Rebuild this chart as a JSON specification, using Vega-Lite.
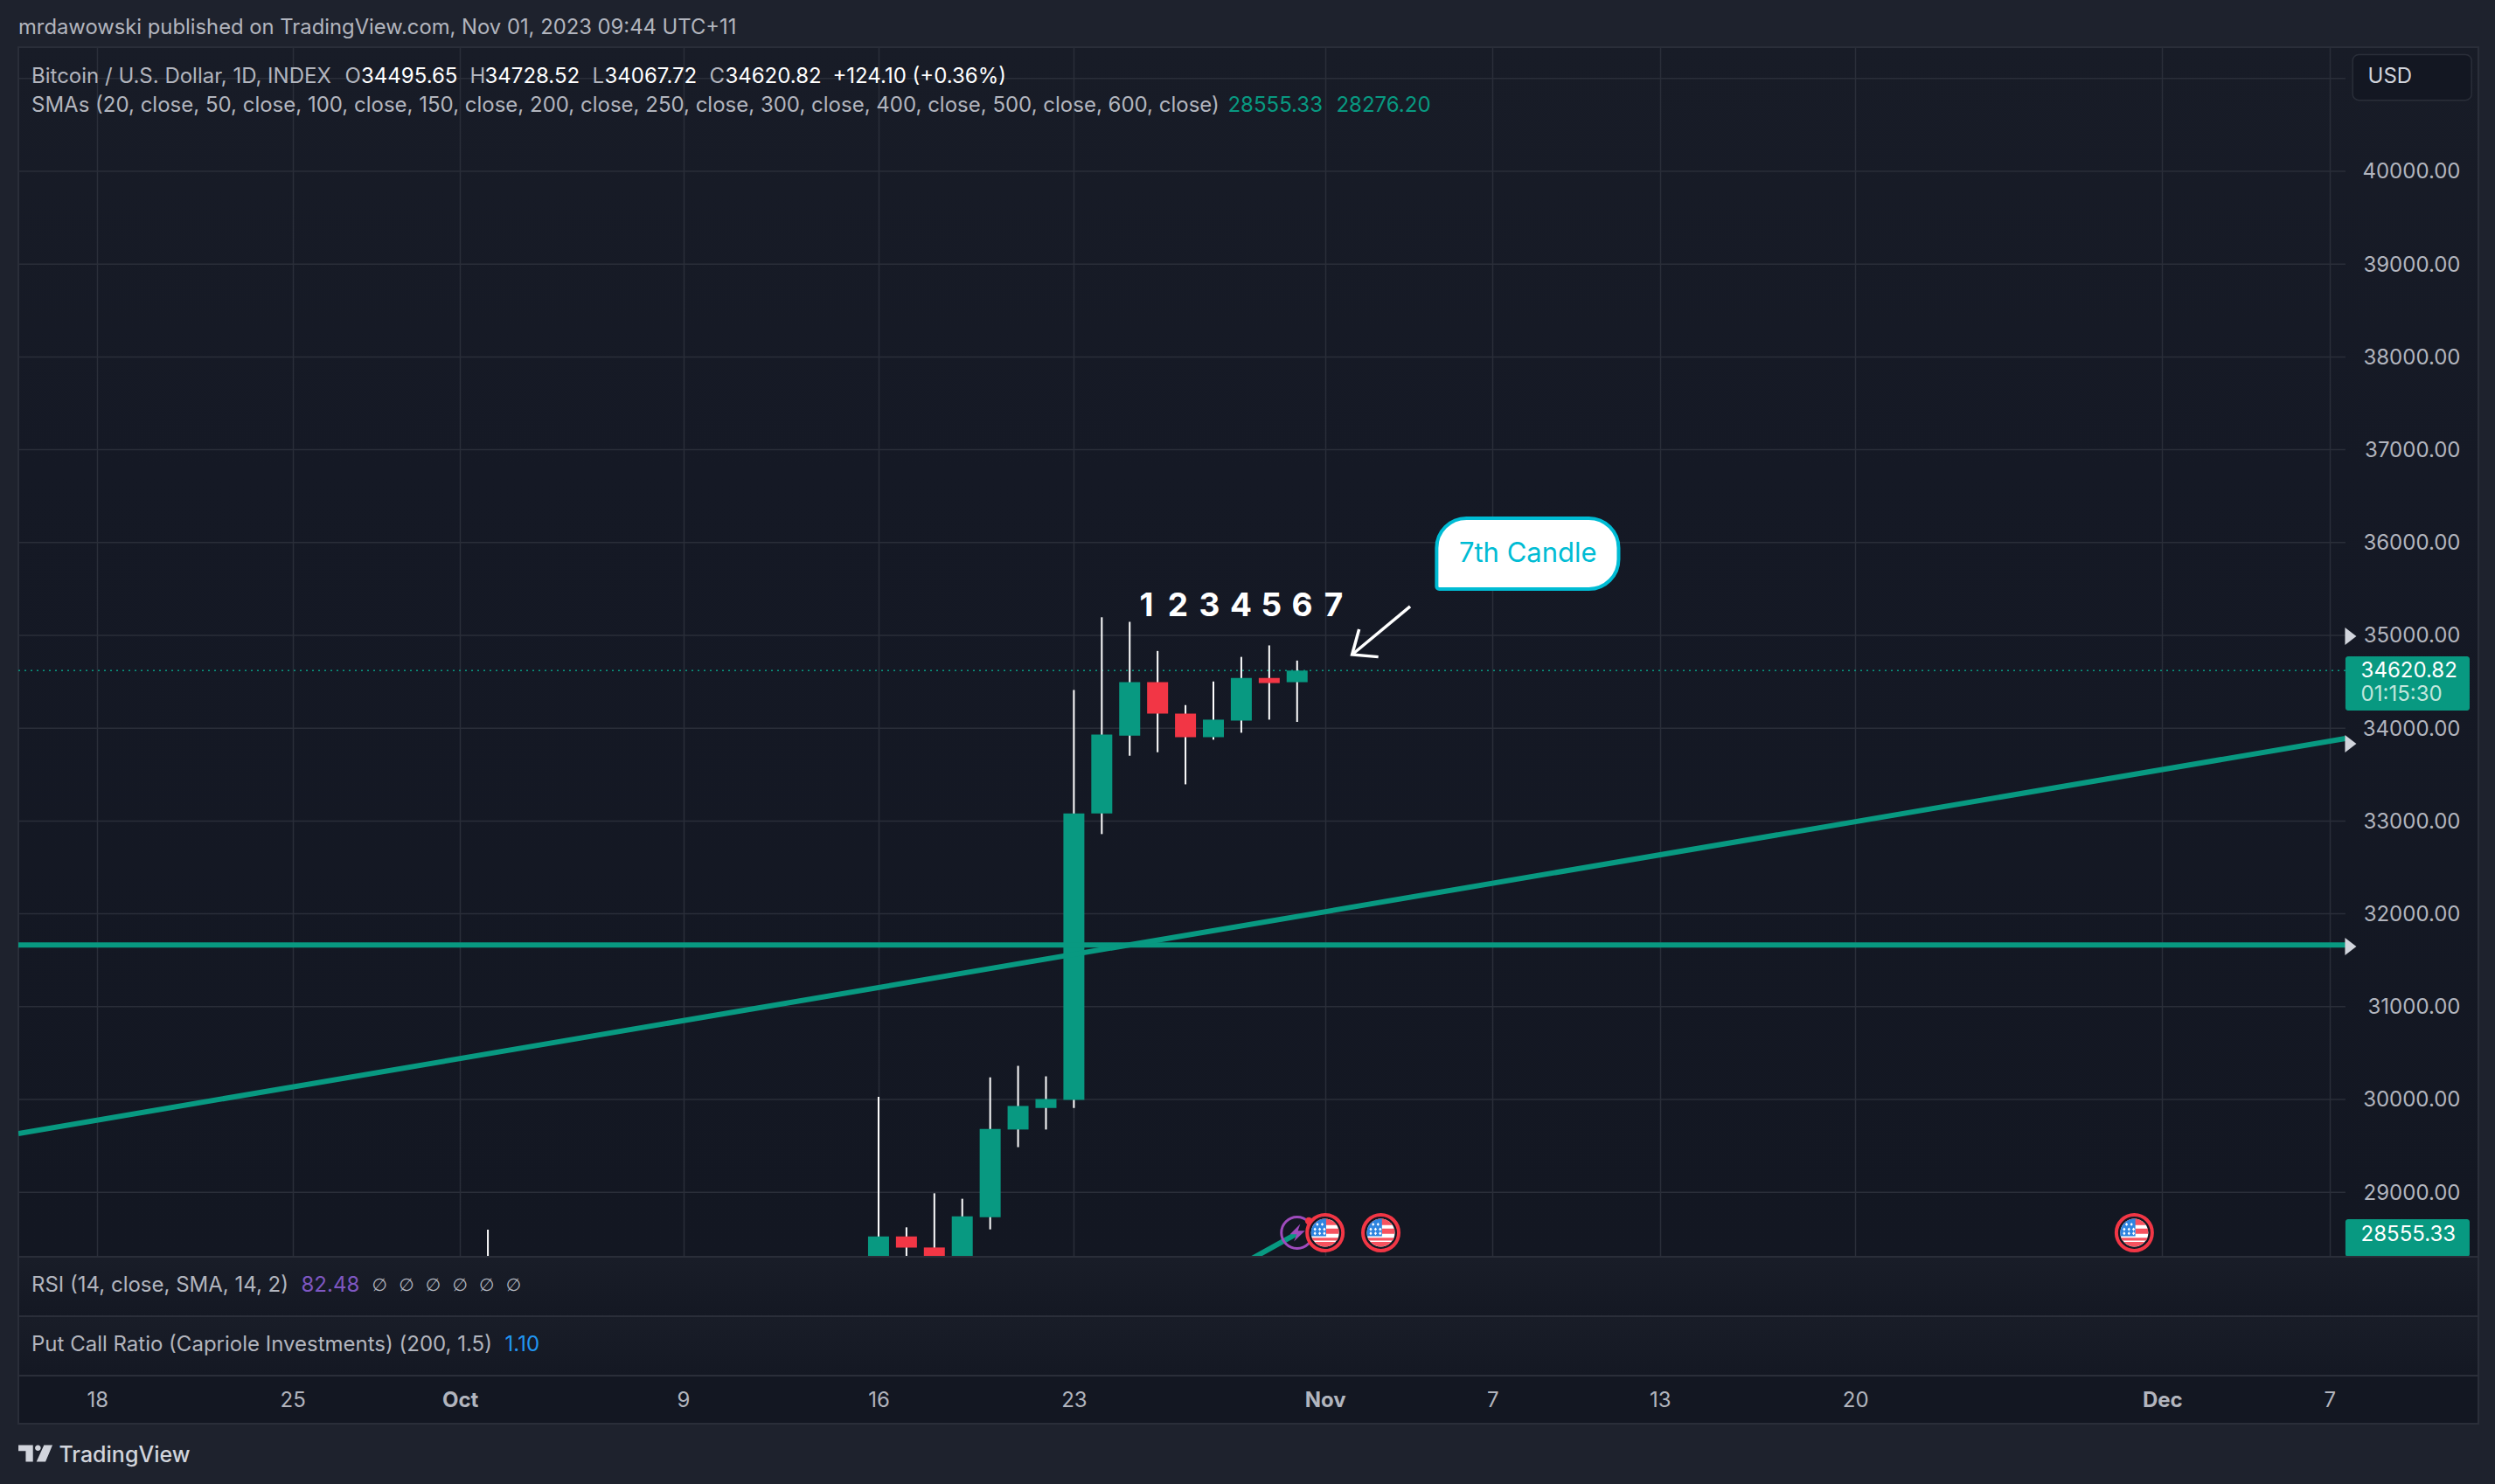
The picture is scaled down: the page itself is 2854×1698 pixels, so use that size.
{
  "$schema": "https://vega.github.io/schema/vega-lite/v6.json",
  "background": "#1e222d",
  "padding": 0,
  "spacing": 0,
  "bounds": "flush",
  "resolve": {"scale": {"color": "independent"}},
  "config": {
    "font": "Inter",
    "view": {"stroke": "#2a2e39", "strokeWidth": 2},
    "text": {"font": "Inter", "fontSize": 24, "align": "left", "baseline": "middle"},
    "axis": {"labelFont": "Inter", "labelFontSize": 24, "labelColor": "#b2b5be", "title": null, "domain": false, "ticks": false}
  },
  "datasets": {
    "candles": [
      {"date": "2023-10-02", "open": 27982, "high": 28597, "low": 27300, "close": 27510},
      {"date": "2023-10-16", "open": 27160, "high": 30027, "low": 27100, "close": 28524},
      {"date": "2023-10-17", "open": 28524, "high": 28622, "low": 28100, "close": 28405},
      {"date": "2023-10-18", "open": 28405, "high": 28989, "low": 28100, "close": 28290},
      {"date": "2023-10-19", "open": 28290, "high": 28930, "low": 28200, "close": 28741},
      {"date": "2023-10-20", "open": 28730, "high": 30238, "low": 28600, "close": 29681},
      {"date": "2023-10-21", "open": 29676, "high": 30362, "low": 29486, "close": 29930},
      {"date": "2023-10-22", "open": 29908, "high": 30249, "low": 29676, "close": 30005},
      {"date": "2023-10-23", "open": 29995, "high": 34411, "low": 29908, "close": 33081},
      {"date": "2023-10-24", "open": 33081, "high": 35195, "low": 32859, "close": 33930},
      {"date": "2023-10-25", "open": 33919, "high": 35146, "low": 33703, "close": 34497},
      {"date": "2023-10-26", "open": 34497, "high": 34832, "low": 33741, "close": 34157},
      {"date": "2023-10-27", "open": 34157, "high": 34249, "low": 33395, "close": 33903},
      {"date": "2023-10-28", "open": 33903, "high": 34503, "low": 33876, "close": 34092},
      {"date": "2023-10-29", "open": 34081, "high": 34768, "low": 33951, "close": 34541},
      {"date": "2023-10-30", "open": 34541, "high": 34892, "low": 34092, "close": 34486},
      {"date": "2023-10-31", "open": 34495.65, "high": 34728.52, "low": 34067.72, "close": 34620.82}
    ],
    "priceLines": [
      {"series": "sma flat", "date": "2023-09-15T04:11:00Z", "price": 31665},
      {"series": "sma flat", "date": "2023-12-07T13:37:00Z", "price": 31665},
      {"series": "sma rising", "date": "2023-09-15T04:11:00Z", "price": 29633},
      {"series": "sma rising", "date": "2023-12-07T13:37:00Z", "price": 33889},
      {"series": "sma low", "date": "2023-10-29T00:00:00Z", "price": 28222},
      {"series": "sma low", "date": "2023-10-31T00:00:00Z", "price": 28555}
    ],
    "events": [
      {"date": "2023-11-01", "price": 28564},
      {"date": "2023-11-03", "price": 28564},
      {"date": "2023-11-30", "price": 28564}
    ]
  },
  "vconcat": [
    {
      "width": 2814,
      "height": 1384,
      "view": {"fill": {"gradient": "linear", "x1": 0, "y1": 0, "x2": 0, "y2": 1, "stops": [{"offset": 0, "color": "#181c27"}, {"offset": 0.35, "color": "#151925"}, {"offset": 1, "color": "#131722"}]}},
      "encoding": {
        "x": {
          "field": "date",
          "type": "temporal",
          "scale": {"type": "utc", "domain": ["2023-09-15T04:11:00Z", "2023-12-12T07:58:00Z"], "padding": 0},
          "axis": {
            "grid": true,
            "gridColor": "#2a2e39",
            "gridWidth": 1.5,
            "labels": false,
            "values": [
              {"year": 2023, "month": "sep", "date": 18, "utc": true},
              {"year": 2023, "month": "sep", "date": 25, "utc": true},
              {"year": 2023, "month": "oct", "date": 1, "utc": true},
              {"year": 2023, "month": "oct", "date": 9, "utc": true},
              {"year": 2023, "month": "oct", "date": 16, "utc": true},
              {"year": 2023, "month": "oct", "date": 23, "utc": true},
              {"year": 2023, "month": "nov", "date": 1, "utc": true},
              {"year": 2023, "month": "nov", "date": 7, "utc": true},
              {"year": 2023, "month": "nov", "date": 13, "utc": true},
              {"year": 2023, "month": "nov", "date": 20, "utc": true},
              {"year": 2023, "month": "dec", "date": 1, "utc": true},
              {"year": 2023, "month": "dec", "date": 7, "utc": true}
            ]
          }
        },
        "y": {
          "field": "price",
          "type": "quantitative",
          "scale": {"domain": [28305, 41337], "nice": false, "zero": false},
          "axis": {
            "orient": "right",
            "grid": false,
            "values": [29000, 30000, 31000, 32000, 33000, 34000, 35000, 36000, 37000, 38000, 39000, 40000],
            "format": ".2f",
            "labelAlign": "right",
            "labelPadding": -21,
            "labelOffset": 1,
            "zindex": 1
          }
        }
      },
      "layer": [
        {
          "data": {"values": [{"date": "2023-09-14T13:09:00Z", "to": "2023-12-12T22:58:00Z", "price": 41836, "price2": 25847}]},
          "mark": {"type": "rect", "fill": "transparent"},
          "encoding": {"x2": {"field": "to"}, "y2": {"field": "price2"}}
        },
        {
          "data": {"values": [
            {"date": "2023-09-15T04:11:00Z", "to": "2023-12-07T13:37:00Z", "price": 29000},
            {"date": "2023-09-15T04:11:00Z", "to": "2023-12-07T13:37:00Z", "price": 30000},
            {"date": "2023-09-15T04:11:00Z", "to": "2023-12-07T13:37:00Z", "price": 31000},
            {"date": "2023-09-15T04:11:00Z", "to": "2023-12-07T13:37:00Z", "price": 32000},
            {"date": "2023-09-15T04:11:00Z", "to": "2023-12-07T13:37:00Z", "price": 33000},
            {"date": "2023-09-15T04:11:00Z", "to": "2023-12-07T13:37:00Z", "price": 34000},
            {"date": "2023-09-15T04:11:00Z", "to": "2023-12-07T13:37:00Z", "price": 35000},
            {"date": "2023-09-15T04:11:00Z", "to": "2023-12-07T13:37:00Z", "price": 36000},
            {"date": "2023-09-15T04:11:00Z", "to": "2023-12-07T13:37:00Z", "price": 37000},
            {"date": "2023-09-15T04:11:00Z", "to": "2023-12-07T13:37:00Z", "price": 38000},
            {"date": "2023-09-15T04:11:00Z", "to": "2023-12-07T13:37:00Z", "price": 39000},
            {"date": "2023-09-15T04:11:00Z", "to": "2023-12-07T13:37:00Z", "price": 40000},
            {"date": "2023-09-15T04:11:00Z", "to": "2023-12-07T13:37:00Z", "price": 41000}
          ]},
          "mark": {"type": "rule", "color": "#2a2e39", "strokeWidth": 1.5},
          "encoding": {"x2": {"field": "to"}}
        },
        {
          "data": {"values": [{"date": "2023-09-15T04:11:00Z", "to": "2023-12-07T13:37:00Z", "price": 34620.82}]},
          "mark": {"type": "rule", "color": "#089981", "strokeWidth": 1.5, "strokeDash": [2, 5]},
          "encoding": {"x2": {"field": "to"}}
        },
        {
          "data": {"name": "candles"},
          "mark": {"type": "rule", "color": "#ffffff", "strokeWidth": 2, "clip": true},
          "encoding": {
            "y": {
              "field": "low",
              "type": "quantitative",
              "scale": {"domain": [28305, 41337], "nice": false, "zero": false},
              "axis": {"orient": "right", "grid": false, "values": [29000, 30000, 31000, 32000, 33000, 34000, 35000, 36000, 37000, 38000, 39000, 40000], "format": ".2f", "labelAlign": "right", "labelPadding": -21, "labelOffset": 1, "zindex": 1}
            },
            "y2": {"field": "high"}
          }
        },
        {
          "data": {"name": "candles"},
          "mark": {"type": "bar", "orient": "vertical", "size": 24, "clip": true},
          "encoding": {
            "y": {
              "field": "open",
              "type": "quantitative",
              "scale": {"domain": [28305, 41337], "nice": false, "zero": false},
              "axis": {"orient": "right", "grid": false, "values": [29000, 30000, 31000, 32000, 33000, 34000, 35000, 36000, 37000, 38000, 39000, 40000], "format": ".2f", "labelAlign": "right", "labelPadding": -21, "labelOffset": 1, "zindex": 1}
            },
            "y2": {"field": "close"},
            "color": {"condition": {"test": "datum.close >= datum.open", "value": "#089981"}, "value": "#f23645"}
          }
        },
        {
          "data": {"name": "priceLines"},
          "mark": {"type": "line", "color": "#089981", "strokeWidth": 6, "clip": true},
          "encoding": {"detail": {"field": "series"}}
        },
        {
          "data": {"values": [{"date": "2023-10-31T00:00:00Z", "price": 28564}]},
          "mark": {"type": "point", "shape": "circle", "size": 1296, "filled": false, "color": "#9f4bbd", "strokeWidth": 3, "opacity": 1}
        },
        {
          "data": {"values": [{"date": "2023-10-31T00:00:00Z", "price": 28564}]},
          "mark": {"type": "point", "shape": "M0.2,-0.55 L-0.45,0.1 L-0.02,0.1 L-0.2,0.55 L0.5,-0.12 L0.05,-0.12 Z", "size": 1296, "filled": true, "color": "#9f4bbd", "strokeWidth": 0, "opacity": 1}
        },
        {
          "data": {"values": [{"date": "2023-10-31T10:00:00Z", "price": 28691}]},
          "mark": {"type": "point", "shape": "circle", "size": 70, "filled": true, "color": "#f23645", "strokeWidth": 0, "opacity": 1}
        },
        {
          "data": {"name": "events"},
          "mark": {"type": "point", "shape": "circle", "size": 1681, "filled": true, "fill": "#131722", "stroke": "#f23645", "strokeWidth": 4, "opacity": 1}
        },
        {
          "data": {"name": "events"},
          "mark": {"type": "point", "shape": "circle", "size": 1024, "filled": true, "color": "#ffffff", "strokeWidth": 0, "opacity": 1}
        },
        {
          "data": {"name": "events"},
          "mark": {"type": "point", "shape": "M-0.835,-0.55 A1,1 0 0 1 0.835,-0.55 Z M0.08,-0.3 L0.98,-0.3 L0.99,0.08 L0.08,0.08 Z M-0.95,0.36 L0.95,0.36 L0.85,0.56 L-0.85,0.56 Z M-0.75,0.66 L0.75,0.66 A1,1 0 0 1 -0.75,0.66 Z", "size": 1024, "filled": true, "color": "#f7525f", "strokeWidth": 0, "opacity": 1}
        },
        {
          "data": {"name": "events"},
          "mark": {"type": "point", "shape": "M0.08,-1 L0.08,0.25 L-0.968,0.25 A1,1 0 0 1 0.08,-1 Z", "size": 1024, "filled": true, "color": "#2f85e0", "strokeWidth": 0, "opacity": 1}
        },
        {
          "data": {"name": "events"},
          "mark": {"type": "point", "shape": "M-0.55,-0.72 L-0.45,-0.6 L-0.55,-0.48 L-0.65,-0.6 Z M-0.2,-0.72 L-0.1,-0.6 L-0.2,-0.48 L-0.3,-0.6 Z M-0.72,-0.37 L-0.62,-0.25 L-0.72,-0.13 L-0.82,-0.25 Z M-0.38,-0.37 L-0.28,-0.25 L-0.38,-0.13 L-0.48,-0.25 Z M-0.05,-0.37 L0.05,-0.25 L-0.05,-0.13 L-0.15,-0.25 Z M-0.72,-0.07 L-0.62,0.05 L-0.72,0.17 L-0.82,0.05 Z M-0.38,-0.07 L-0.28,0.05 L-0.38,0.17 L-0.48,0.05 Z M-0.05,-0.07 L0.05,0.05 L-0.05,0.17 L-0.15,0.05 Z", "size": 1024, "filled": true, "color": "#ffffff", "strokeWidth": 0, "opacity": 1}
        },
        {
          "data": {"values": [
            {"stroke": "shaft", "date": "2023-11-04T01:12:00Z", "price": 35311, "step": 1},
            {"stroke": "shaft", "date": "2023-11-01T23:17:00Z", "price": 34793, "step": 2},
            {"stroke": "head", "date": "2023-11-02T05:17:00Z", "price": 35066, "step": 1},
            {"stroke": "head", "date": "2023-11-01T23:17:00Z", "price": 34793, "step": 2},
            {"stroke": "head", "date": "2023-11-02T21:50:00Z", "price": 34768, "step": 3}
          ]},
          "mark": {"type": "line", "color": "#ffffff", "strokeWidth": 3.5},
          "encoding": {"detail": {"field": "stroke"}, "order": {"field": "step"}}
        },
        {
          "data": {"values": [{"date": "2023-11-05T00:00:00Z", "to": "2023-11-11T12:29:00Z", "price": 36262, "price2": 35499}]},
          "mark": {"type": "rect", "fill": "#ffffff", "stroke": "#00bcd4", "strokeWidth": 4, "cornerRadiusTopLeft": 34, "cornerRadiusTopRight": 34, "cornerRadiusBottomRight": 34, "cornerRadiusBottomLeft": 3},
          "encoding": {"x2": {"field": "to"}, "y2": {"field": "price2"}}
        },
        {
          "data": {"values": [{"date": "2023-11-08T06:29:00Z", "price": 35880, "note": "7th Candle"}]},
          "mark": {"type": "text", "align": "center", "fontSize": 31, "color": "#00bcd4", "font": "Inter"},
          "encoding": {"text": {"field": "note"}}
        },
        {
          "data": {"values": [
            {"date": "2023-10-25T14:24:00Z", "price": 35311, "note": "1"},
            {"date": "2023-10-26T17:31:00Z", "price": 35311, "note": "2"},
            {"date": "2023-10-27T20:38:00Z", "price": 35311, "note": "3"},
            {"date": "2023-10-28T23:46:00Z", "price": 35311, "note": "4"},
            {"date": "2023-10-30T01:55:00Z", "price": 35311, "note": "5"},
            {"date": "2023-10-31T04:19:00Z", "price": 35311, "note": "6"},
            {"date": "2023-11-01T07:26:00Z", "price": 35311, "note": "7"}
          ]},
          "mark": {"type": "text", "align": "center", "fontSize": 37, "fontWeight": 700, "color": "#ffffff", "font": "Inter"},
          "encoding": {"text": {"field": "note"}}
        },
        {
          "data": {"values": [
            {"date": "2023-12-07T13:37:00Z", "to": "2023-12-12T00:25:00Z", "price": 34774, "price2": 34190},
            {"date": "2023-12-07T13:37:00Z", "to": "2023-12-12T00:25:00Z", "price": 28710, "price2": 28305}
          ]},
          "mark": {"type": "rect", "fill": "#089981", "cornerRadius": 3},
          "encoding": {"x2": {"field": "to"}, "y2": {"field": "price2"}}
        },
        {
          "data": {"values": [
            {"date": "2023-12-07T18:08:00Z", "price": 34990},
            {"date": "2023-12-07T18:08:00Z", "price": 33832},
            {"date": "2023-12-07T18:08:00Z", "price": 31648}
          ]},
          "mark": {"type": "point", "shape": "M-0.65,-1 L0.65,0 L-0.65,1 Z", "size": 400, "filled": true, "color": "#d1d4dc", "strokeWidth": 0, "opacity": 1}
        },
        {
          "data": {"values": [{"date": "2023-12-07T19:51:00Z", "to": "2023-12-12T02:06:00Z", "price": 41258, "price2": 40766}]},
          "mark": {"type": "rect", "fill": "#131722", "stroke": "#2a2e39", "strokeWidth": 1.5, "cornerRadius": 7},
          "encoding": {"x2": {"field": "to"}, "y2": {"field": "price2"}}
        },
        {
          "data": {"values": [{"date": "2023-09-15T04:11:00Z", "price": 41544, "note": "mrdawowski published on TradingView.com, Nov 01, 2023 09:44 UTC+11"}]},
          "mark": {"type": "text", "fontSize": 23.8, "color": "#b2b5be"},
          "encoding": {"text": {"field": "note"}}
        },
        {
          "data": {"values": [
            {"date": "2023-09-15T15:28:00Z", "price": 41017, "note": "Bitcoin / U.S. Dollar, 1D, INDEX", "tone": "label"},
            {"date": "2023-09-26T21:00:00Z", "price": 41017, "note": "O", "tone": "label"},
            {"date": "2023-09-27T10:55:00Z", "price": 41017, "note": "34495.65", "tone": "value"},
            {"date": "2023-10-01T08:31:00Z", "price": 41017, "note": "H", "tone": "label"},
            {"date": "2023-10-01T21:19:00Z", "price": 41017, "note": "34728.52", "tone": "value"},
            {"date": "2023-10-05T17:47:00Z", "price": 41017, "note": "L", "tone": "label"},
            {"date": "2023-10-06T04:19:00Z", "price": 41017, "note": "34067.72", "tone": "value"},
            {"date": "2023-10-09T22:34:00Z", "price": 41017, "note": "C", "tone": "label"},
            {"date": "2023-10-10T12:00:00Z", "price": 41017, "note": "34620.82", "tone": "value"},
            {"date": "2023-10-14T08:31:00Z", "price": 41017, "note": "+124.10 (+0.36%)", "tone": "value"},
            {"date": "2023-09-15T15:28:00Z", "price": 40706, "note": "SMAs (20, close, 50, close, 100, close, 150, close, 200, close, 250, close, 300, close, 400, close, 500, close, 600, close)", "tone": "label"},
            {"date": "2023-10-28T12:23:00Z", "price": 40706, "note": "28555.33", "tone": "ma"},
            {"date": "2023-11-01T09:36:00Z", "price": 40706, "note": "28276.20", "tone": "ma"},
            {"date": "2023-12-08T08:53:00Z", "price": 41017, "note": "USD", "tone": "bright"},
            {"date": "2023-12-08T02:53:00Z", "price": 34614, "note": "34620.82", "tone": "value"},
            {"date": "2023-12-08T02:53:00Z", "price": 34360, "note": "01:15:30", "tone": "pale"},
            {"date": "2023-12-08T02:53:00Z", "price": 28540, "note": "28555.33", "tone": "value"}
          ]},
          "mark": {"type": "text"},
          "encoding": {
            "text": {"field": "note"},
            "color": {
              "field": "tone",
              "type": "nominal",
              "legend": null,
              "scale": {"domain": ["label", "value", "ma", "bright", "pale"], "range": ["#b2b5be", "#ffffff", "#089981", "#d1d4dc", "#c0e6dc"]}
            }
          }
        }
      ]
    },
    {
      "width": 2814,
      "height": 68,
      "view": {"fill": {"gradient": "linear", "x1": 0, "y1": 0, "x2": 0, "y2": 1, "stops": [{"offset": 0, "color": "#191d28"}, {"offset": 1, "color": "#141823"}]}},
      "encoding": {
        "x": {"field": "date", "type": "temporal", "scale": {"type": "utc", "domain": ["2023-09-15T04:11:00Z", "2023-12-12T07:58:00Z"]}, "axis": null},
        "y": {"field": "position", "type": "quantitative", "scale": {"domain": [0, 1]}, "axis": null}
      },
      "layer": [
        {
          "data": {"values": [
            {"date": "2023-09-15T15:28:00Z", "position": 0.51, "note": "RSI (14, close, SMA, 14, 2)", "tone": "label"},
            {"date": "2023-09-25T07:26:00Z", "position": 0.51, "note": "82.48", "tone": "rsi"}
          ]},
          "mark": {"type": "text"},
          "encoding": {
            "text": {"field": "note"},
            "color": {"field": "tone", "type": "nominal", "legend": null, "scale": {"domain": ["label", "rsi"], "range": ["#b2b5be", "#7e57c2"]}}
          }
        },
        {
          "data": {"values": [
            {"date": "2023-09-28T02:52:00Z", "position": 0.51, "note": "∅"},
            {"date": "2023-09-29T01:55:00Z", "position": 0.51, "note": "∅"},
            {"date": "2023-09-30T00:58:00Z", "position": 0.51, "note": "∅"},
            {"date": "2023-10-01T00:00:00Z", "position": 0.51, "note": "∅"},
            {"date": "2023-10-01T23:02:00Z", "position": 0.51, "note": "∅"},
            {"date": "2023-10-02T22:05:00Z", "position": 0.51, "note": "∅"}
          ]},
          "mark": {"type": "text", "align": "center", "font": "DejaVu Sans", "fontSize": 20, "color": "#b2b5be"},
          "encoding": {"text": {"field": "note"}}
        }
      ]
    },
    {
      "width": 2814,
      "height": 68,
      "view": {"fill": {"gradient": "linear", "x1": 0, "y1": 0, "x2": 0, "y2": 1, "stops": [{"offset": 0, "color": "#191d28"}, {"offset": 1, "color": "#141823"}]}},
      "data": {"values": [
        {"date": "2023-09-15T15:28:00Z", "position": 0.515, "note": "Put Call Ratio (Capriole Investments) (200, 1.5)", "tone": "label"},
        {"date": "2023-10-02T14:38:00Z", "position": 0.515, "note": "1.10", "tone": "ratio"}
      ]},
      "mark": {"type": "text"},
      "encoding": {
        "x": {"field": "date", "type": "temporal", "scale": {"type": "utc", "domain": ["2023-09-15T04:11:00Z", "2023-12-12T07:58:00Z"]}, "axis": null},
        "y": {"field": "position", "type": "quantitative", "scale": {"domain": [0, 1]}, "axis": null},
        "text": {"field": "note"},
        "color": {"field": "tone", "type": "nominal", "legend": null, "scale": {"domain": ["label", "ratio"], "range": ["#b2b5be", "#2196f3"]}}
      }
    },
    {
      "width": 2814,
      "height": 55,
      "view": {"fill": "#131722"},
      "encoding": {
        "x": {
          "field": "date",
          "type": "temporal",
          "scale": {"type": "utc", "domain": ["2023-09-15T04:11:00Z", "2023-12-12T07:58:00Z"]},
          "axis": {
            "grid": false,
            "labelPadding": -27,
            "labelBaseline": "middle",
            "labelOverlap": false,
            "labelFlush": false,
            "labelExpr": "utcdate(datum.value) === 1 ? utcFormat(datum.value, '%b') : utcFormat(datum.value, '%-d')",
            "labelFontWeight": {"expr": "utcdate(datum.value) === 1 ? 700 : 400"},
            "values": [
              {"year": 2023, "month": "sep", "date": 18, "utc": true},
              {"year": 2023, "month": "sep", "date": 25, "utc": true},
              {"year": 2023, "month": "oct", "date": 1, "utc": true},
              {"year": 2023, "month": "oct", "date": 9, "utc": true},
              {"year": 2023, "month": "oct", "date": 16, "utc": true},
              {"year": 2023, "month": "oct", "date": 23, "utc": true},
              {"year": 2023, "month": "nov", "date": 1, "utc": true},
              {"year": 2023, "month": "nov", "date": 7, "utc": true},
              {"year": 2023, "month": "nov", "date": 13, "utc": true},
              {"year": 2023, "month": "nov", "date": 20, "utc": true},
              {"year": 2023, "month": "dec", "date": 1, "utc": true},
              {"year": 2023, "month": "dec", "date": 7, "utc": true}
            ]
          }
        },
        "y": {"field": "position", "type": "quantitative", "scale": {"domain": [0, 1]}, "axis": null}
      },
      "layer": [
        {
          "data": {"values": [{"date": "2023-09-15T18:53:00Z", "position": -0.618}]},
          "mark": {"type": "point", "shape": "M-1,-0.49 L-0.145,-0.49 L-0.145,0.49 L-0.57,0.49 L-0.57,-0.145 L-1,-0.145 Z M0.315,-0.32 A0.17,0.17 0 1 1 -0.025,-0.32 A0.17,0.17 0 1 1 0.315,-0.32 Z M0.5,-0.49 L1,-0.49 L0.59,0.49 L0.06,0.49 Z", "size": 1521, "filled": true, "color": "#d1d4dc", "strokeWidth": 0, "opacity": 1}
        },
        {
          "data": {"values": [{"date": "2023-09-16T15:07:00Z", "position": -0.655, "note": "TradingView"}]},
          "mark": {"type": "text", "fontSize": 25, "fontWeight": 500, "color": "#d1d4dc"},
          "encoding": {"text": {"field": "note"}}
        }
      ]
    }
  ]
}
